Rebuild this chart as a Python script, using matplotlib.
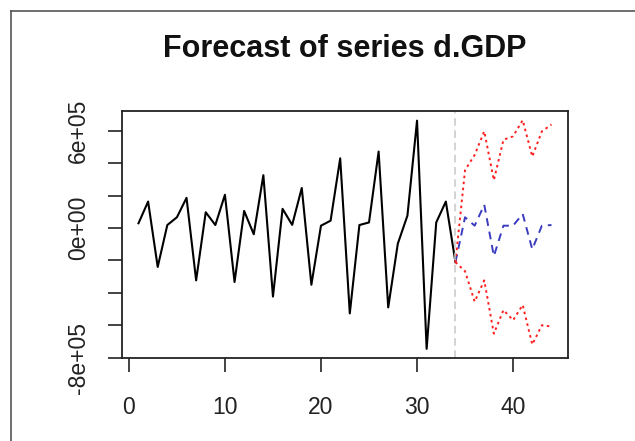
import matplotlib
matplotlib.use('Agg')
import matplotlib.pyplot as plt
from matplotlib.lines import Line2D
import numpy as np

plt.rcParams['font.family'] = ['Liberation Sans', 'DejaVu Sans']

# observed d.GDP, t = 1..34 (units of 1e5)
gdp = [0.3, 1.64, -2.4, 0.19, 0.67, 1.87, -3.23, 0.98, 0.19, 2.06,
       -3.33, 1.06, -0.38, 3.27, -4.23, 1.19, 0.2, 2.48, -3.5, 0.15,
       0.46, 4.31, -5.27, 0.19, 0.35, 4.73, -4.9, -0.96, 0.77, 6.64,
       -7.46, 0.35, 1.64, -2.1]

# forecast, t = 35..44 (units of 1e5)
fcst = [0.67, 0.15, 1.44, -1.73, 0.15, 0.15, 0.875, -1.31, 0.15, 0.19]
upper = [3.58, 4.52, 5.98, 2.96, 5.46, 5.67, 6.67, 4.42, 5.98, 6.4]
lower = [-2.67, -4.54, -3.23, -6.52, -5.06, -5.69, -4.75, -7.19, -6.0, -6.08]

yticks = [-8, -6, -4, -2, 0, 2, 4, 6]
ylabels = ['-8e+05', '', '', '', '0e+00', '', '', '6e+05']
xticks = [0, 10, 20, 30, 40]

scale = 1e5
t_obs = np.arange(1, len(gdp) + 1)
t_fc = np.arange(len(gdp), len(gdp) + len(fcst) + 1)
last = gdp[-1]

fig = plt.figure(figsize=(6.35, 4.41), dpi=100)
ax = fig.add_axes([0.1921, 0.1882, 0.7024, 0.5601])

ax.plot(t_obs, np.array(gdp) * scale, color='black', lw=1.5)
ax.plot(t_fc, np.array([last] + fcst) * scale, color='#3b3bc0', lw=1.4,
        ls=(0, (4, 3)))
ax.plot(t_fc, np.array([last] + upper) * scale, color='#ff2020', lw=1.4,
        ls=(0, (1.3, 1.8)))
ax.plot(t_fc, np.array([last] + lower) * scale, color='#ff2020', lw=1.4,
        ls=(0, (1.3, 1.8)))
ax.axvline(len(gdp), color='#c8c8c8', lw=1.1, ls=(0, (5, 3)))

allx = np.concatenate([t_obs, t_fc])
ally = np.concatenate([gdp, fcst, upper, lower]) * scale
xr = allx.max() - allx.min()
yr = ally.max() - ally.min()
ax.set_xlim(allx.min() - 0.04 * xr, allx.max() + 0.04 * xr)
ax.set_ylim(ally.min() - 0.04 * yr, ally.max() + 0.04 * yr)

ax.set_xticks(xticks)
ax.set_xticklabels([str(v) for v in xticks])
ax.set_yticks([v * scale for v in yticks])
ax.set_yticklabels(ylabels, rotation=90, va='center')
ax.tick_params(axis='both', length=10, width=1.2, labelsize=16.5, pad=15,
               color='#222222', labelcolor='#222222')
ax.tick_params(axis='x', pad=17)
ax.tick_params(axis='y', pad=13)
for s in ax.spines.values():
    s.set_linewidth(1.3)
    s.set_color('#222222')

fig.text(0.5433, 1 - 49 / 441, 'Forecast of series d.GDP', ha='center',
         va='center', fontsize=22, fontweight='bold', color='#111111')

# screenshot frame
fig.add_artist(Line2D([11 / 635, 11 / 635], [0, 1 - 11 / 441],
                      transform=fig.transFigure, color='#555555', lw=1.2))
fig.add_artist(Line2D([11 / 635, 1], [1 - 11 / 441, 1 - 11 / 441],
                      transform=fig.transFigure, color='#555555', lw=1.2))

fig.savefig('out.png', dpi=100)
